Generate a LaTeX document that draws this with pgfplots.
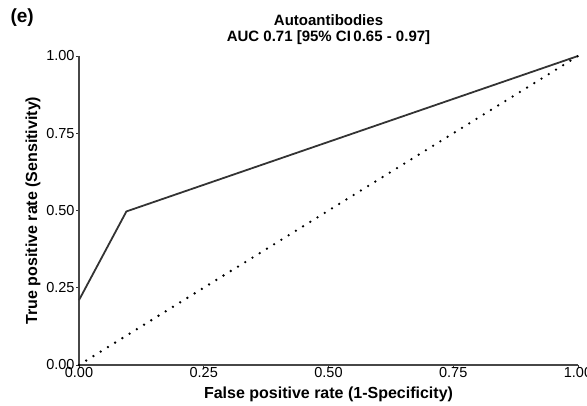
\documentclass[border=0pt]{standalone}
\usepackage{pgfplots}
\pgfplotsset{compat=1.18}
\usepackage{fontspec}
\setmainfont{Liberation Sans}
\definecolor{curve}{HTML}{333333}
\begin{document}
\begin{tikzpicture}[x=1bp,y=1bp]
\path[use as bounding box] (0,0) rectangle (587,405);
\node[font=\fontsize{19bp}{22bp}\selectfont\bfseries, anchor=west] at (7,387) {(e)};
\begin{axis}[
  at={(79bp,40bp)}, anchor=south west,
  scale only axis, width=499bp, height=309bp,
  xmin=0, xmax=1, ymin=0, ymax=1,
  axis lines*=left,
  axis line style={line width=1.3pt, color=curve!90},
  xtick={0,0.25,0.5,0.75,1}, ytick={0,0.25,0.5,0.75,1},
  xticklabels={0.00,0.25,0.50,0.75,1.00},
  yticklabels={0.00,0.25,0.50,0.75,1.00},
  tick align=outside, major tick length=3bp,
  tick style={color=curve, line width=0.6pt},
  /pgf/number format/assume math mode=true,
  tick label style={font=\fontsize{14.5bp}{16bp}\selectfont, color=black},
  xticklabel style={yshift=4bp},
  yticklabel style={xshift=2bp},
  xlabel={\bfseries False positive rate (1-Specificity)},
  ylabel={\bfseries True positive rate (Sensitivity)},
  label style={font=\fontsize{16bp}{18bp}\selectfont},
  xlabel style={yshift=-2bp},
  ylabel style={yshift=-1bp},
  title={\bfseries Autoantibodies\\\bfseries AUC 0.71 [95\% CI\,0.65 - 0.97]},
  title style={font=\fontsize{15bp}{16bp}\selectfont, align=center, yshift=2bp},
  clip=false,
]
\addplot[color=curve, line width=1.8pt] coordinates {(0,0.21) (0.095,0.497) (1,1)};
\addplot[color=black, line width=2.6pt, dash pattern=on 0pt off 8.5bp, line cap=round] coordinates {(0,0) (1,1)};
\end{axis}
\end{tikzpicture}
\end{document}
